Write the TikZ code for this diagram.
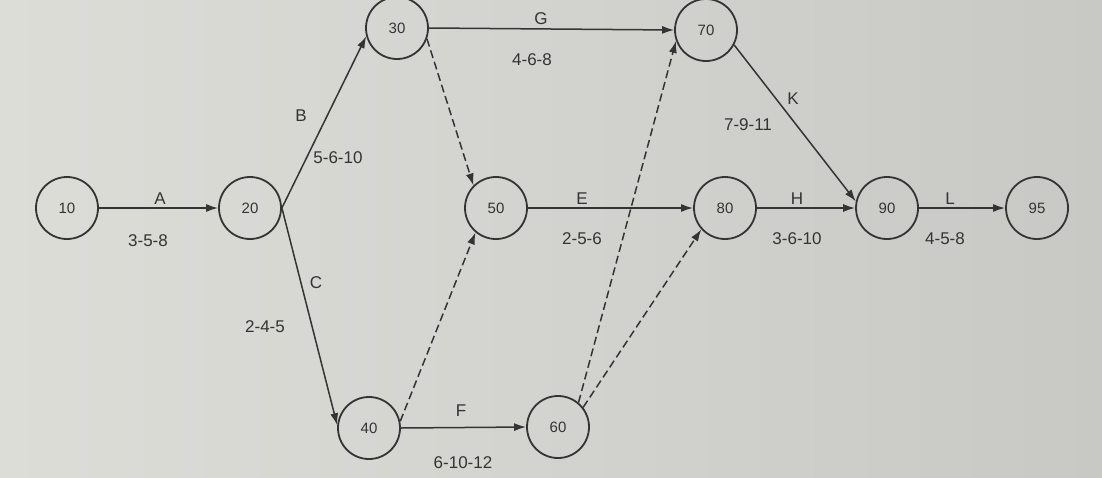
\documentclass[tikz,border=0pt]{standalone}
\usepackage{fontspec}
\setmainfont{Liberation Sans}
\usetikzlibrary{arrows.meta}
\definecolor{paper}{RGB}{221,221,216}
\definecolor{paperdark}{RGB}{200,200,197}
\definecolor{ink}{RGB}{52,52,52}
\begin{document}
\begin{tikzpicture}[x=1pt,y=-1pt,
                    event/.style={circle,draw=ink,line width=1.8pt,minimum size=62pt,inner sep=0pt,
                                  font=\fontsize{15}{17}\selectfont,text=ink},
                    lbl/.style={font=\fontsize{17}{19}\selectfont,text=ink,inner sep=1pt},
                    act/.style={-{Latex[length=12pt,width=8pt]},draw=ink,line width=1.5pt},
                    dummy/.style={act,dash pattern=on 8pt off 4pt}]
\shade[left color=paper,right color=paperdark] (0,0) rectangle (1102,477);
\useasboundingbox (0,0) rectangle (1102,477);

% events
\node[event] (n10) at (67,208) {10};
\node[event] (n20) at (250,208) {20};
\node[event] (n30) at (397,28) {30};
\node[event] (n40) at (369,428) {40};
\node[event] (n50) at (496,208) {50};
\node[event] (n60) at (558,427) {60};
\node[event] (n70) at (706,30) {70};
\node[event] (n80) at (725,208) {80};
\node[event] (n90) at (887,208) {90};
\node[event] (n95) at (1037,208) {95};

% activities
\draw[act] (n10) -- (n20);
\draw[act] (n20.east) -- (n30.195);
\draw[act] (n20.east) -- (n40.175);
\draw[act] (n30.east) -- (n70.west);
\draw[act] (n50) -- (n80);
\draw[act] (n40.east) -- (n60.west);
\draw[act] (n70.-28) -- (n90.168);
\draw[act] (n80) -- (n90);
\draw[act] (n90) -- (n95);

% dummies
\draw[dummy] (n30.-20) -- (n50.135);
\draw[dummy] (n40.12) -- (n50.230);
\draw[dummy] (n60.50) -- (n70.200);
\draw[dummy] (n60.38) -- (n80.222);

% labels
\node[lbl] (lA) at (160,199) {A};
\node[lbl] (tA) at (148,241) {3-5-8};
\node[lbl] (lB) at (301,116) {B};
\node[lbl] (tB) at (338,158) {5-6-10};
\node[lbl] (lC) at (316,283) {C};
\node[lbl] (tC) at (265,327) {2-4-5};
\node[lbl] (lG) at (541,19) {G};
\node[lbl] (tG) at (532,60) {4-6-8};
\node[lbl] (lE) at (582,199) {E};
\node[lbl] (tE) at (582,239) {2-5-6};
\node[lbl] (lF) at (461,411) {F};
\node[lbl] (tF) at (463,463) {6-10-12};
\node[lbl] (lK) at (793,99) {K};
\node[lbl] (tK) at (748,125) {7-9-11};
\node[lbl] (lH) at (797,199) {H};
\node[lbl] (tH) at (797,239) {3-6-10};
\node[lbl] (lL) at (950,199) {L};
\node[lbl] (tL) at (945,239) {4-5-8};
\end{tikzpicture}
\end{document}
